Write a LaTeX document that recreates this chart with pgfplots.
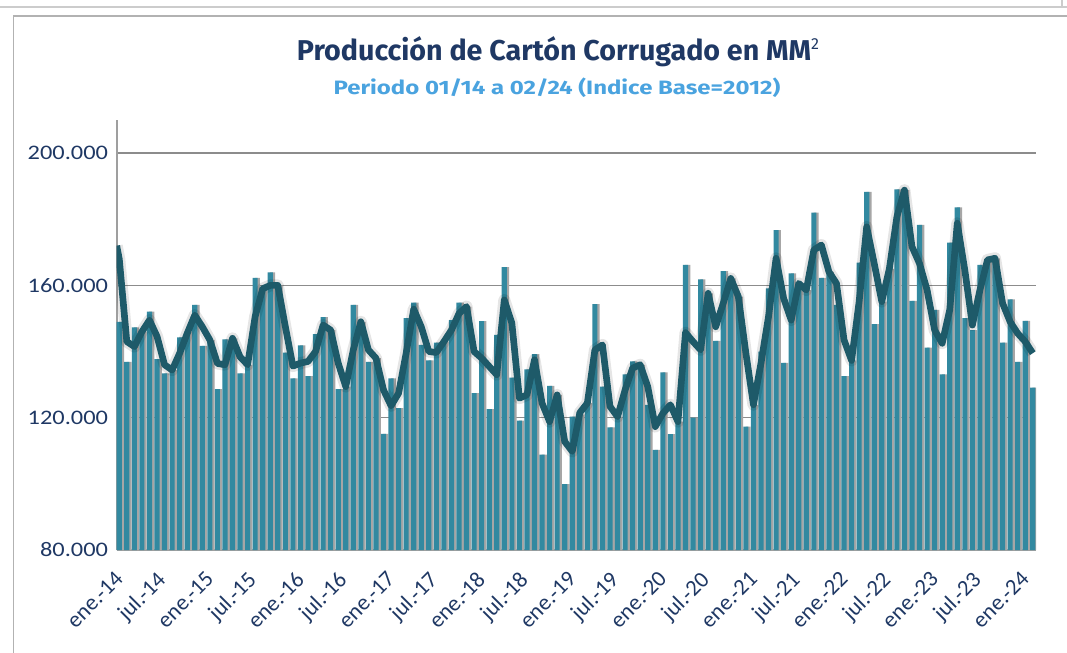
\documentclass[border=0pt]{standalone}
\usepackage{pgfplots}
\pgfplotsset{compat=1.18}
\usepackage{pgfplotstable}
\usepackage{fontspec}
\setmainfont{Carlito}
\newfontfamily\titlefont{Fira Sans}
\definecolor{barc}{HTML}{3289A0}
\definecolor{linec}{HTML}{1E5A69}
\definecolor{shadc}{HTML}{A6A6A6}
\definecolor{navy}{HTML}{1F3864}
\definecolor{lblue}{HTML}{4AA3DF}
\definecolor{gridc}{HTML}{8C8C8C}
\newcommand{\rl}[1]{\rotatebox{45}{#1}}

\pgfplotstableread{
x b
0 149.0
1 136.9
2 147.3
3 146
4 152.1
5 137.7
6 133.4
7 134.4
8 144.3
9 146
10 154.1
11 141.7
12 143.5
13 128.6
14 143.7
15 144
16 133.4
17 136
18 162.3
19 159
20 163.9
21 160
22 139.7
23 131.9
24 141.9
25 132.6
26 145.3
27 150.4
28 146.5
29 128.6
30 129.4
31 154.1
32 149
33 136.9
34 138
35 115.1
36 131.9
37 122.9
38 150.1
39 154.8
40 142.0
41 137.3
42 142.7
43 143
44 149.5
45 154.8
46 153.6
47 127.4
48 149.2
49 122.6
50 145.0
51 165.5
52 132.1
53 119.1
54 134.6
55 139.2
56 108.8
57 129.6
58 126.9
59 99.9
60 120.3
61 121
62 124.4
63 154.3
64 129.4
65 117.1
66 120.3
67 133.1
68 137
69 136
70 123.9
71 110.3
72 133.7
73 115
74 118.8
75 166.2
76 120
77 161.8
78 157.6
79 143.2
80 164.3
81 162.1
82 156.6
83 117.3
84 123.9
85 140
86 159.1
87 176.7
88 136.6
89 163.6
90 160.6
91 158.6
92 182.0
93 162.3
94 164.1
95 154.1
96 132.6
97 137.3
98 166.9
99 188.3
100 148.3
101 155.1
102 165
103 189.0
104 188.8
105 155.3
106 178.3
107 141.2
108 152.6
109 133.1
110 172.9
111 183.6
112 150.1
113 146.5
114 166.2
115 167.7
116 168.2
117 142.7
118 155.8
119 136.9
120 149.3
121 129.1
}\bardata

\pgfplotstableread{
x l
-0.34 172
0 168
1 143
2 141.5
3 146
4 149.5
5 144.6
6 136
7 134.4
8 139.5
9 145.5
10 151
11 147.5
12 143.5
13 136.4
14 136
15 144
16 138.4
17 136
18 150.6
19 159
20 160
21 160
22 147.5
23 135.6
24 136.5
25 137
26 140
27 148
28 146.5
29 136.5
30 129.4
31 140.5
32 149
33 140.5
34 138
35 128.4
36 123.6
37 127.4
38 139.5
39 152.8
40 147.5
41 140
42 139.7
43 143
44 146.5
45 151.5
46 153.6
47 140
48 138
49 135.5
50 133
51 155.6
52 148.6
53 125.9
54 126.9
55 137.5
56 124.4
57 118.8
58 126.9
59 112.8
60 109.8
61 121.5
62 124.4
63 140.5
64 142
65 123.4
66 120.3
67 128.4
68 135
69 136
70 129.4
71 117.3
72 121.3
73 123.9
74 118.8
75 145.7
76 143
77 140.5
78 157.6
79 147.5
80 154.6
81 162.1
82 156.6
83 139.5
84 123.9
85 136.5
86 150.6
87 168.2
88 156.1
89 149.5
90 160.6
91 158.6
92 170.7
93 172.2
94 164.1
95 160.6
96 143.5
97 137.3
98 155.1
99 177.7
100 166.6
101 155.1
102 165
103 180.7
104 188.8
105 171.7
106 166.6
107 158.6
108 146.5
109 142.5
110 152.6
111 178.8
112 164.6
113 148
114 158.6
115 167.7
116 168.2
117 154.6
118 149
119 145.5
120 143
121 139.5
}\linedata

\begin{document}
\begin{tikzpicture}
\begin{axis}[
  at={(0,0)}, anchor=south west,
  scale only axis,
  width=689.6pt, height=322.5pt,
  xmin=-0.34, xmax=121.45,
  ymin=80, ymax=210,
  axis lines*=left,
  axis line style={draw=gray!75, line width=1.4pt},
  ytick={80,120,160,200},
  yticklabels={80.000,120.000,160.000,200.000},
  ymajorgrids,
  grid style={draw=gridc, line width=1.1pt},
  xtick={0,6,...,120},
  xticklabels={\rl{ene.-14},\rl{jul.-14},\rl{ene.-15},\rl{jul.-15},\rl{ene.-16},\rl{jul.-16},\rl{ene.-17},\rl{jul.-17},\rl{ene.-18},\rl{jul.-18},\rl{ene.-19},\rl{jul.-19},\rl{ene.-20},\rl{jul.-20},\rl{ene.-21},\rl{jul.-21},\rl{ene.-22},\rl{jul.-22},\rl{ene.-23},\rl{jul.-23},\rl{ene.-24}},
  major tick length=0pt,
  yticklabel style={font=\fontsize{15.5}{17}\selectfont, text=navy, xscale=1.18, anchor=east, xshift=-2pt},
  xticklabel style={font=\fontsize{17}{19}\selectfont, text=navy, anchor=north east, inner sep=0pt, xshift=4pt, yshift=-15pt},
  /pgf/number format/assume math mode=true,
  clip=true,
]
\addplot[ybar, bar width=0.68, bar shift=0.3, fill=shadc, draw=none] table[x=x,y=b]{\bardata};
\addplot[ybar, bar width=0.68, bar shift=0, fill=barc, draw=none] table[x=x,y=b]{\bardata};
\addplot[black, opacity=0.10, line width=9pt, line join=round, mark=none] table[x=x,y=l]{\linedata};
\addplot[linec, line width=5pt, line join=round, mark=none] table[x=x,y=l]{\linedata};
\end{axis}
\begin{scope}[x=0.75pt, y=-0.75pt, shift={(-87.525pt,412.5pt)}]
  \draw[gray!40, line width=1.5pt] (0,7) -- (1067,7);
  \draw[gray!40, line width=1pt] (1062,0) -- (1062,7);
  \draw[gray!60, line width=1.2pt] (13.5,653) -- (13.5,16) -- (1067,16);
  \node[text=navy, font={\titlefont\bfseries\fontsize{21.5}{23}\selectfont}] at (558,52)
    {Producción de Cartón Corrugado en MM\raisebox{0.75ex}{\fontsize{12}{12}\selectfont\mdseries 2}};
  \node[text=lblue, xscale=1.24, font={\titlefont\bfseries\fontsize{14.5}{16}\selectfont}] at (557,88)
    {Periodo 01/14 a 02/24 (Indice Base=2012)};
  \pgfresetboundingbox
  \path[use as bounding box] (0,0) rectangle (1067,653);
\end{scope}
\end{tikzpicture}
\end{document}
